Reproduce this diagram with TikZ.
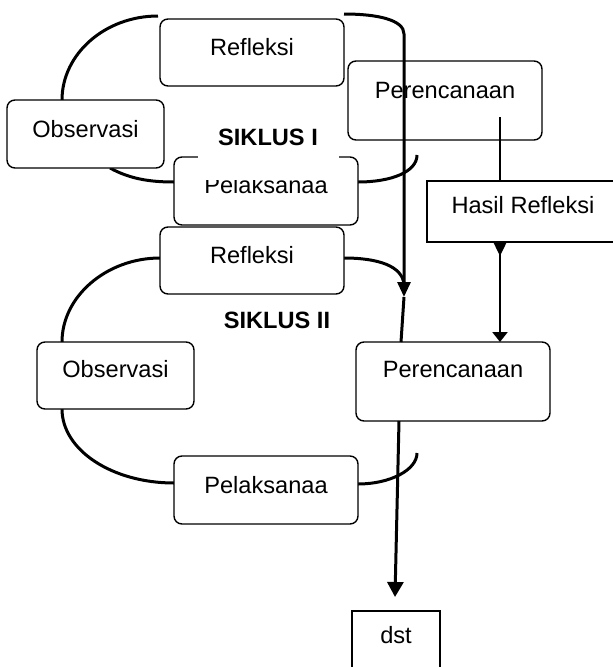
\documentclass[tikz,border=0pt]{standalone}
\usepackage{fontspec}
\setmainfont{Liberation Sans}
\usetikzlibrary{arrows.meta}
\begin{document}
\begin{tikzpicture}[x=1pt,y=-1pt,
  box/.style={draw, line width=1.4pt, rounded corners=8pt, fill=white, inner sep=0pt, outer sep=0pt},
  sqbox/.style={draw, line width=1.4pt, fill=white, inner sep=0pt, outer sep=0pt},
  txt/.style={font=\fontsize{23.6}{28}\selectfont, inner sep=0pt, anchor=base},
  bold/.style={font=\fontsize{23.6}{28}\selectfont\bfseries, inner sep=0pt, anchor=base},
  cyc/.style={line width=3pt},
  flow/.style={line width=3pt},
  link/.style={line width=2.4pt},
]
\useasboundingbox (0,0) rectangle (613,667);

% cycle I arcs
\coordinate (c1a) at (158,16);
\coordinate (c1b) at (62,100);
\coordinate (c1c) at (110,168);
\coordinate (c1d) at (174,182);
\coordinate (c1e) at (358,182);
\coordinate (c1f) at (417,155);
\coordinate (c1g) at (344,14);
\coordinate (vtop) at (404,34);
\coordinate (vmid) at (404,297);
\draw[cyc] (c1a) .. controls (105,16) and (62,54) .. (c1b);
\draw[cyc] (c1c) .. controls (130,179) and (150,182) .. (c1d);
\draw[cyc] (c1e) .. controls (391,182) and (417,172) .. (c1f);

% cycle II arcs
\coordinate (c2a) at (160,258);
\coordinate (c2b) at (62,342);
\coordinate (c2c) at (62,409);
\coordinate (c2d) at (174,483);
\coordinate (c2e) at (358,484);
\coordinate (c2f) at (417,453);
\coordinate (c2g) at (344,258);
\coordinate (c2h) at (404,285);
\draw[cyc] (c2a) .. controls (107,258) and (62,296) .. (c2b);
\draw[cyc] (c2c) .. controls (62,450) and (112,483) .. (c2d);
\draw[cyc] (c2e) .. controls (390,484) and (417,470) .. (c2f);
\draw[cyc] (c2g) .. controls (378,258) and (403,266) .. (c2h);

% boxes cycle I
\node[box, minimum width=184pt, minimum height=67pt] (ref1) at (252,52.5) {};
\node[txt] (ref1t) at (252,55) {Refleksi};
\node[box, minimum width=157pt, minimum height=68pt] (obs1) at (85.5,134) {};
\node[txt] (obs1t) at (85.5,137) {Observasi};
\node[box, minimum width=194pt, minimum height=79pt] (per1) at (445,100.5) {};
\node[txt] (per1t) at (445,98) {Perencanaan};
\node[box, minimum width=184pt, minimum height=68pt] (pel1) at (266,191) {};
\node[txt] (pel1t) at (266,193) {Pelaksanaa};
\node[bold, fill=white, minimum width=141pt, text depth=35pt] (sik1) at (268,145) {SIKLUS I};

% Hasil Refleksi
\node[sqbox, minimum width=192pt, minimum height=61pt] (hasil) at (523,211.5) {};
\node[txt] (hasilt) at (523,213) {Hasil Refleksi};

% boxes cycle II
\node[box, minimum width=184pt, minimum height=67pt] (ref2) at (252,260.5) {};
\node[txt] (ref2t) at (252,263) {Refleksi};
\node[bold] (sik2) at (277,328) {SIKLUS II};
\node[box, minimum width=157pt, minimum height=67pt] (obs2) at (115.5,375.5) {};
\node[txt] (obs2t) at (115.5,377) {Observasi};
\node[box, minimum width=194pt, minimum height=79pt] (per2) at (453,381.5) {};
\node[txt] (per2t) at (453,377) {Perencanaan};
\node[box, minimum width=184pt, minimum height=68pt] (pel2) at (266,490) {};
\node[txt] (pel2t) at (266,493) {Pelaksanaa};

% dst
\node[sqbox, minimum width=88pt, minimum height=69pt] (dst) at (396,645.5) {};
\node[txt] (dstt) at (396,643) {dst};

% main vertical flow
\draw[flow, -{Triangle[width=13pt,length=15pt]}] (c1g) .. controls (378,14) and (404,20) .. (vtop) -- (vmid);
\draw[flow] (vmid) -- (per2.north -| 401,0);
\coordinate (v3s) at (399,421);
\coordinate (v3e) at (395,597);
\draw[flow, -{Triangle[width=16pt,length=15pt]}] (v3s) -- (v3e);

% Hasil Refleksi links
\coordinate (p1in) at (500,117);
\draw[link] (p1in) -- (p1in |- hasil.north);
\draw[link, {Triangle[reversed,width=13pt,length=14pt]}-{Triangle[width=15pt,length=10pt]}] (hasil.south -| p1in) -- (per2.north -| p1in);
\end{tikzpicture}
\end{document}
